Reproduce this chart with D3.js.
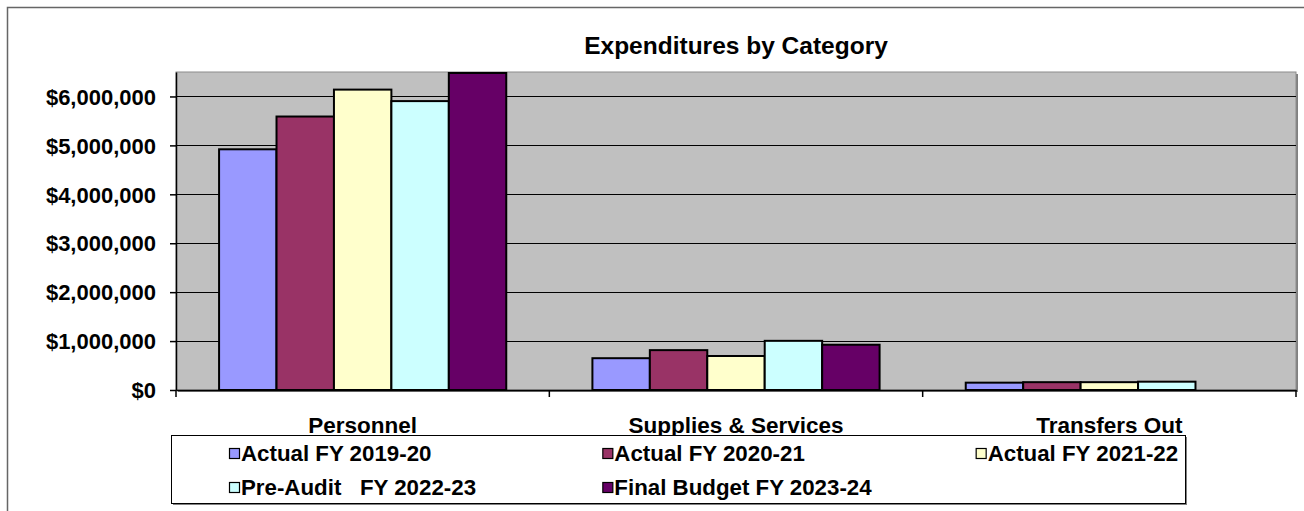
<!DOCTYPE html>
<html>
<head>
<meta charset="utf-8">
<script src="https://cdn.jsdelivr.net/npm/d3@7"></script>
<style>
  body { margin: 0; background: #fff; }
  text { font-family: "Liberation Sans", Arial, sans-serif; font-weight: bold; fill: #000; }
</style>
</head>
<body>
<div id="chart"></div>
<script>
var categories = ["Personnel", "Supplies & Services", "Transfers Out"];
var seriesNames = ["Actual FY 2019-20", "Actual FY 2020-21", "Actual FY 2021-22", "Pre-Audit   FY 2022-23", "Final Budget FY 2023-24"];
var seriesColors = ["#9999FF", "#993366", "#FFFFCC", "#CCFFFF", "#660066"];
var fy1920 = [4920000, 650000, 150000];
var fy2021 = [5590000, 815000, 160000];
var fy2122 = [6140000, 695000, 160000];
var fy2223 = [5905000, 1005000, 170000];
var fy2324 = [6480000, 925000, 0];
var seriesValues = [fy1920, fy2021, fy2122, fy2223, fy2324];
var yTicks = [0, 1000000, 2000000, 3000000, 4000000, 5000000, 6000000];

var W = 1304, H = 511;
var plot = {left: 176, top: 72, right: 1296, bottom: 390};

var svg = d3.select("#chart").append("svg")
    .attr("width", W)
    .attr("height", H);

// outer chart border
svg.append("rect")
    .attr("x", 7.5).attr("y", 7.5)
    .attr("width", W + 20).attr("height", H + 20)
    .attr("fill", "#fff")
    .attr("stroke", "#666")
    .attr("stroke-width", 1.5);

svg.append("text")
    .attr("x", (plot.left + plot.right) / 2)
    .attr("y", 54)
    .attr("text-anchor", "middle")
    .style("font-size", "24.5px")
    .text("Expenditures by Category");

var x0 = d3.scaleBand()
    .domain(categories)
    .range([plot.left, plot.right]);
var x1 = d3.scaleBand()
    .domain(d3.range(seriesNames.length))
    .range([0, x0.bandwidth()])
    .paddingOuter(0.75);
var ys = d3.scaleLinear()
    .domain([0, 6500000])
    .range([plot.bottom, plot.top]);

// plot area with shadow
svg.append("rect")
    .attr("x", plot.left + 2).attr("y", plot.top + 2)
    .attr("width", plot.right - plot.left).attr("height", plot.bottom - plot.top)
    .attr("fill", "#808080");
svg.append("rect")
    .attr("x", plot.left).attr("y", plot.top)
    .attr("width", plot.right - plot.left).attr("height", plot.bottom - plot.top)
    .attr("fill", "#C0C0C0")
    .attr("stroke", "#8c8c8c")
    .attr("stroke-width", 1);

// gridlines
svg.append("g")
    .selectAll("line")
    .data(yTicks.slice(1))
    .join("line")
    .attr("x1", plot.left).attr("x2", plot.right)
    .attr("y1", d => Math.round(ys(d)) + 0.5)
    .attr("y2", d => Math.round(ys(d)) + 0.5)
    .attr("stroke", "#000")
    .attr("stroke-width", 1);

// bars
var groups = svg.append("g")
    .selectAll("g")
    .data(seriesValues)
    .join("g")
    .attr("fill", (d, i) => seriesColors[i]);
groups.selectAll("rect")
    .data((vals, si) => vals.map((v, ci) => ({v: v, si: si, ci: ci})))
    .join("rect")
    .filter(d => d.v > 0)
    .attr("x", d => x0(categories[d.ci]) + x1(d.si))
    .attr("y", d => ys(d.v))
    .attr("width", x1.bandwidth())
    .attr("height", d => ys(0) - ys(d.v))
    .attr("stroke", "#000")
    .attr("stroke-width", 2);

// y axis
var yAxis = svg.append("g")
    .attr("transform", "translate(" + plot.left + ",0)")
    .call(d3.axisLeft(ys).tickValues(yTicks).tickSize(6).tickSizeOuter(0)
        .tickFormat(d => "$" + d3.format(",")(d)));
yAxis.select(".domain").attr("stroke", "#000").attr("stroke-width", 1.5);
yAxis.selectAll(".tick line").attr("stroke", "#000").attr("stroke-width", 1.5);
yAxis.selectAll(".tick text")
    .attr("x", -20)
    .attr("dy", "0.35em")
    .style("font-size", "22px")
    .style("font-family", "'Liberation Sans', Arial, sans-serif")
    .style("font-weight", "bold");

// x axis
var xAxis = svg.append("g")
    .attr("transform", "translate(0," + plot.bottom + ")")
    .call(d3.axisBottom(x0).tickSize(0).tickPadding(27));
xAxis.select(".domain").attr("stroke", "#000").attr("stroke-width", 1.5);
xAxis.selectAll(".tick text")
    .style("font-size", "22.5px")
    .style("font-family", "'Liberation Sans', Arial, sans-serif")
    .style("font-weight", "bold");
svg.append("g")
    .selectAll("line")
    .data(categories.map(c => x0(c)).concat([plot.right]))
    .join("line")
    .attr("x1", d => d).attr("x2", d => d)
    .attr("y1", plot.bottom).attr("y2", plot.bottom + 7)
    .attr("stroke", "#000")
    .attr("stroke-width", 1.5);

// legend
var leg = {x: 171, y: 435, w: 1014, h: 68};
svg.append("rect")
    .attr("x", leg.x + 2).attr("y", leg.y + 2)
    .attr("width", leg.w).attr("height", leg.h)
    .attr("fill", "#808080");
svg.append("rect")
    .attr("x", leg.x + 0.5).attr("y", leg.y + 0.5)
    .attr("width", leg.w).attr("height", leg.h)
    .attr("fill", "#fff")
    .attr("stroke", "#000")
    .attr("stroke-width", 1);

var item = svg.append("g")
    .selectAll("g")
    .data(seriesNames)
    .join("g")
    .attr("transform", (d, i) => "translate(" + (x0(categories[i % 3]) + 53) + "," + (i < 3 ? 453 : 487) + ")");
item.append("rect")
    .attr("x", 0.5).attr("y", -4.5)
    .attr("width", 10).attr("height", 10)
    .attr("fill", (d, i) => seriesColors[i])
    .attr("stroke", "#000")
    .attr("stroke-width", 1.2);
item.append("text")
    .attr("x", 12)
    .attr("dy", "0.36em")
    .style("font-size", "22.3px")
    .style("white-space", "pre")
    .text(d => d);
</script>
</body>
</html>
